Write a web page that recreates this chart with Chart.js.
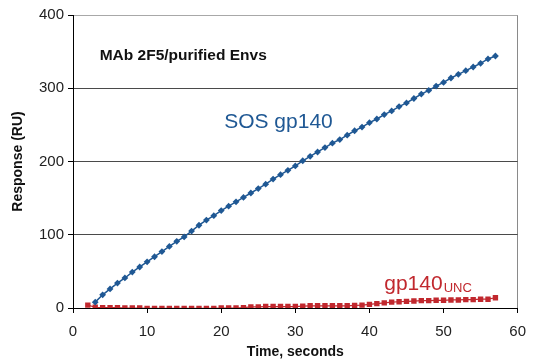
<!DOCTYPE html>
<html>
<head>
<meta charset="utf-8">
<script src="https://cdn.jsdelivr.net/npm/chart.js@4/dist/chart.umd.min.js"></script>
<style>
    body { margin: 0; background: #fff; }
    canvas { display: block; }
</style>
</head>
<body>
<canvas id="respChart" width="536" height="363"></canvas>
<script>
// Time points (seconds) and responses (RU)
const sosTimes = [3, 4, 5, 6, 7, 8, 9, 10, 11, 12, 13, 14, 15, 16, 17, 18, 19, 20, 21, 22,
    23, 24, 25, 26, 27, 28, 29, 30, 31, 32, 33, 34, 35, 36, 37, 38, 39, 40, 41, 42,
    43, 44, 45, 46, 47, 48, 49, 50, 51, 52, 53, 54, 55, 56, 57];
const sosValues = [8, 18, 26, 34, 41, 49, 56, 63, 70, 77, 84, 91, 97, 105, 113, 120, 126, 133, 139, 145,
    151, 157, 163, 169, 176, 182, 188, 194, 201, 207, 213, 219, 225, 230, 236, 242, 247, 253, 258, 264,
    269, 275, 280, 286, 292, 297, 303, 308, 314, 319, 324, 329, 334, 340, 344];

const uncTimes = [2, 3, 4, 5, 6, 7, 8, 9, 10, 11, 12, 13, 14, 15, 16, 17, 18, 19, 20, 21,
    22, 23, 24, 25, 26, 27, 28, 29, 30, 31, 32, 33, 34, 35, 36, 37, 38, 39, 40, 41,
    42, 43, 44, 45, 46, 47, 48, 49, 50, 51, 52, 53, 54, 55, 56, 57];
const uncValues = [4, 1, 0.5, 0.5, 0.5, 0, 0, 0, -0.5, -0.5, -0.5, -0.5, -0.5, -0.5, -0.5, -0.5, -0.5, -0.5, 0, 0,
    0, 0.5, 1.5, 1.5, 2, 2, 2, 2, 2, 2.5, 3, 3, 3, 3, 3, 3, 3.5, 4, 5, 6,
    7, 8, 8.5, 9, 9.5, 10, 10, 10.5, 10.5, 11, 11, 11.5, 11.5, 12, 12, 14];

const xTicks = [0, 10, 20, 30, 40, 50, 60];
const yTicks = [0, 100, 200, 300, 400];

const blue = '#1f5894';
const red = '#c1282e';
const fontFamily = '"Liberation Sans", Arial, sans-serif';

// Text annotations placed in data coordinates
const notes = [
    { text: 'MAb 2F5/purified Envs', x: 3.6, y: 338, color: '#111', font: 'bold 15.5px ' + fontFamily },
    { text: 'SOS gp140', x: 20.4, y: 246, color: blue, font: '21px ' + fontFamily },
    { text: 'gp140', x: 42, y: 25, color: red, font: '21px ' + fontFamily, sub: 'UNC' }
];

const notesPlugin = {
    id: 'notes',
    afterDatasetsDraw(chart) {
        const ctx = chart.ctx;
        const xs = chart.scales.x;
        const ys = chart.scales.y;
        ctx.save();
        ctx.textBaseline = 'alphabetic';
        ctx.textAlign = 'left';
        notes.forEach(n => {
            const px = xs.getPixelForValue(n.x);
            const py = ys.getPixelForValue(n.y);
            ctx.fillStyle = n.color;
            ctx.font = n.font;
            ctx.fillText(n.text, px, py);
            if (n.sub) {
                const w = ctx.measureText(n.text).width;
                ctx.font = '13px ' + fontFamily;
                ctx.fillText(n.sub, px + w + 1, py + 2);
            }
        });
        ctx.restore();
    }
};

const config = {
    type: 'scatter',
    data: {
        datasets: [{
            label: 'SOS gp140',
            data: sosTimes.map((t, i) => ({ x: t, y: sosValues[i] })),
            showLine: true,
            borderColor: blue,
            backgroundColor: blue,
            borderWidth: 1.5,
            pointStyle: 'rectRot',
            pointRadius: 3.4,
            pointBorderWidth: 0,
            tension: 0
        }, {
            label: 'gp140 UNC',
            data: uncTimes.map((t, i) => ({ x: t, y: uncValues[i] })),
            showLine: true,
            borderColor: red,
            backgroundColor: red,
            borderWidth: 1.2,
            pointStyle: 'rect',
            pointRadius: 3.8,
            pointBorderWidth: 0,
            tension: 0
        }]
    },
    options: {
        responsive: false,
        animation: false,
        layout: {
            padding: { left: 0, right: 13, top: 15, bottom: 0 }
        },
        plugins: {
            legend: { display: false },
            tooltip: { enabled: false }
        },
        scales: {
            x: {
                type: 'linear',
                min: 0,
                max: 60,
                afterFit: scale => { scale.height = 55; },
                afterBuildTicks: scale => { scale.ticks = xTicks.map(v => ({ value: v })); },
                border: { color: '#000', width: 1 },
                grid: {
                    color: c => (c.tick && c.tick.value === 60) ? '#8a8a8a' : 'rgba(0,0,0,0)',
                    tickColor: '#000',
                    tickLength: 5,
                    drawTicks: true
                },
                ticks: {
                    color: '#222',
                    padding: 10,
                    font: { family: fontFamily, size: 15 },
                    maxRotation: 0
                },
                title: {
                    display: true,
                    text: 'Time, seconds',
                    color: '#111',
                    font: { family: fontFamily, size: 14, weight: 'bold' },
                    padding: { top: 0, bottom: 2 }
                }
            },
            y: {
                min: 0,
                max: 400,
                afterFit: scale => { scale.width = 73; },
                afterBuildTicks: scale => { scale.ticks = yTicks.map(v => ({ value: v })); },
                border: { color: '#000', width: 1 },
                grid: {
                    color: c => (c.tick && c.tick.value === 400) ? '#a8a8a8' : '#4a4a4a',
                    tickColor: '#000',
                    tickLength: 5,
                    drawTicks: true
                },
                ticks: {
                    color: '#222',
                    padding: 4,
                    font: { family: fontFamily, size: 15 }
                },
                title: {
                    display: true,
                    text: 'Response (RU)',
                    color: '#111',
                    font: { family: fontFamily, size: 14, weight: 'bold' },
                    padding: { top: 10, bottom: 0 }
                }
            }
        }
    },
    plugins: [notesPlugin]
};

const respChart = new Chart(document.getElementById('respChart'), config);
</script>
</body>
</html>
